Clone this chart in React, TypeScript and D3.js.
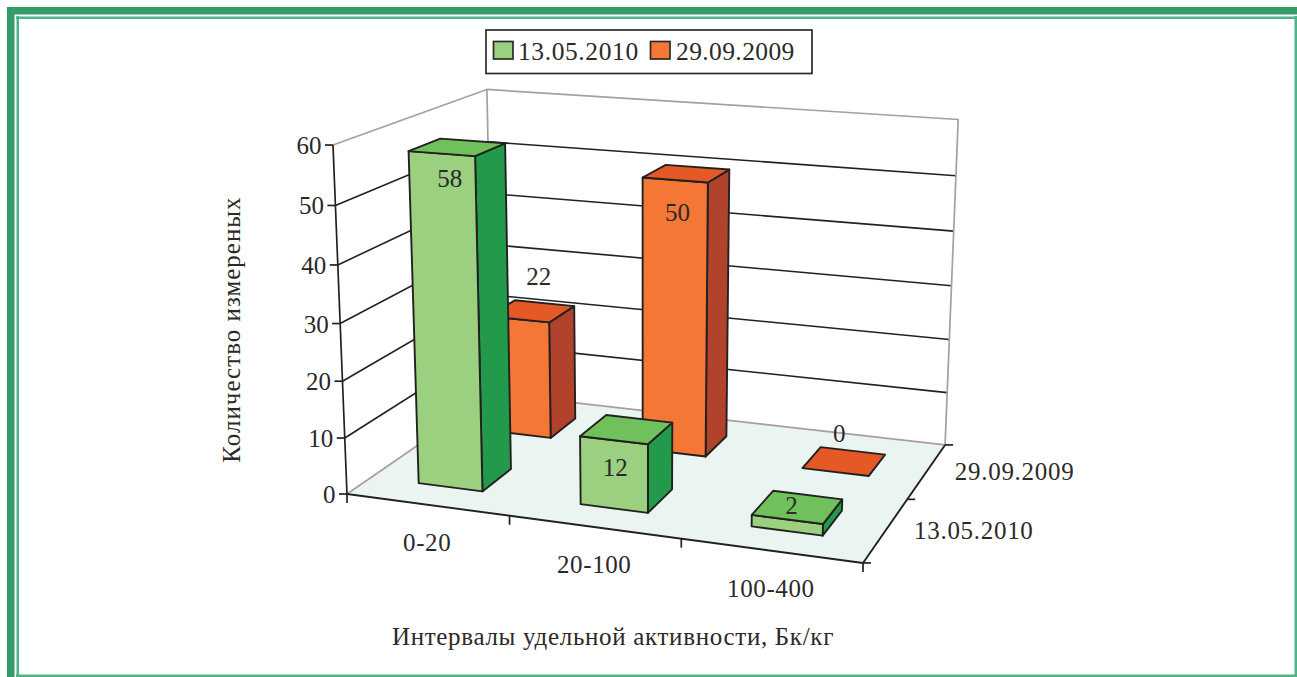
import React from "react";
import * as d3 from "d3";

const categories = ["0-20", "20-100", "100-400"];
const seriesNames = ["13.05.2010", "29.09.2009"];
const values2010 = [58, 12, 2];
const values2009 = [22, 50, 0];
const valueTicks = [0, 10, 20, 30, 40, 50, 60];

const xTitle = "Интервалы удельной активности, Бк/кг";
const yTitle = "Количество измереных";

const INK = "#2b2a29";
const TAUPE = "#a99e9b";
const FONT = "'Liberation Serif', serif";
const palette = [
  { front: "#9ad07f", top: "#70c15c", side: "#239a4b" },
  { front: "#f47735", top: "#e45926", side: "#b1432c" },
];
// hand-placed data label shifts, relative to the bar's top centre
const labelShift = [
  [[-7.5, 40], [-11.5, 46.5], [-6, 7]],
  [[7, -26], [-9, 47.5], [-5, -19]],
];

// 3D -> 2D projective camera (u along categories, v into depth, w up; all 0..1)
const cam = { a: 446.8, b: 223, c: 347, d: 23.8, e: -39.1, f: 494, g: -0.0802, h: 0.1561, i: -0.045, m: -29, n: -355.5 };
type P = [number, number];
const project = (u: number, v: number, w: number): P => {
  const q = cam.g * u + cam.h * v + cam.i * w + 1;
  return [
    (cam.a * u + cam.b * v + cam.m * w + cam.c) / q,
    (cam.d * u + cam.e * v + cam.n * w + cam.f) / q,
  ];
};

const uScale = d3.scaleBand<string>().domain(categories).range([0, 1]).paddingInner(0.6).paddingOuter(0.3);
const vScale = d3.scaleBand<string>().domain(seriesNames).range([0, 1]).paddingInner(0.6).paddingOuter(0.3);
const wScale = d3.scaleLinear().domain([0, 60]).range([0, 1]);
const seriesValues = [values2010, values2009];

const line = d3.line<P>();
const closed = (pts: P[]) => line(pts) + "Z";

function Bar({ cat, si, ci }: { cat: string; si: number; ci: number }) {
  const val = seriesValues[si][ci];
  const u0 = uScale(cat)!, u1 = u0 + uScale.bandwidth();
  const v0 = vScale(seriesNames[si])!, v1 = v0 + vScale.bandwidth();
  const w = wScale(val);
  const c = palette[si];
  const style = { stroke: "#232120", strokeWidth: 1.9, strokeLinejoin: "round" as const };
  return (
    <g {...style}>
      {val > 0 && (
        <>
          <path d={closed([project(u1, v0, 0), project(u1, v1, 0), project(u1, v1, w), project(u1, v0, w)])} fill={c.side} />
          <path d={closed([project(u0, v0, 0), project(u1, v0, 0), project(u1, v0, w), project(u0, v0, w)])} fill={c.front} />
        </>
      )}
      <path d={closed([project(u0, v0, w), project(u1, v0, w), project(u1, v1, w), project(u0, v1, w)])} fill={c.top} />
    </g>
  );
}

export default function App() {
  const text = { fontFamily: FONT, fill: INK, fontSize: 25 };
  const seg = (a: P, b: P, stroke: string, width = 1.6, key?: React.Key) => (
    <path key={key} d={line([a, b])!} stroke={stroke} strokeWidth={width} fill="none" />
  );
  const gridTicks = valueTicks.filter((t) => t > 0 && t < 60);
  return (
    <svg width={1297} height={677} style={{ position: "absolute", left: 0, top: 0, background: "#fff" }}>
      {/* page frame */}
      <g fill="#339c6a">
        <rect x={7} y={7} width={1290} height={7.5} />
        <rect x={7} y={7} width={7.5} height={670} />
      </g>
      <g fill="#4db489">
        <rect x={16} y={16.5} width={1281} height={2.5} />
        <rect x={16.5} y={16} width={2.5} height={661} />
        <rect x={1294.5} y={16} width={2.5} height={661} />
        <rect x={16} y={674.5} width={1281} height={2.5} />
      </g>

      {/* floor */}
      <path d={closed([project(0, 0, 0), project(1, 0, 0), project(1, 1, 0), project(0, 1, 0)])} fill="#eaf5f1" />
      {/* wall gridlines */}
      {gridTicks.map((t) => {
        const w = wScale(t);
        return (
          <path key={t} d={line([project(0, 0, w), project(0, 1, w), project(1, 1, w)])!} fill="none" stroke="#232120" strokeWidth={1.6} />
        );
      })}
      {/* wall outline */}
      <path
        d={line([project(0, 0, 1), project(0, 1, 1), project(1, 1, 1), project(1, 1, 0), project(0, 1, 0), project(0, 0, 0)])!}
        fill="none" stroke={TAUPE} strokeWidth={1.7} strokeLinejoin="round"
      />
      {seg(project(0, 1, 0), project(0, 1, 1), TAUPE, 1.7)}

      {/* axes */}
      {seg(project(0, 0, 0), project(0, 0, 1), "#232120", 1.7)}
      {seg(project(0, 0, 0), project(1, 0, 0), "#232120", 1.9)}
      {seg(project(1, 0, 0), project(1, 1, 0), "#232120", 1.9)}
      {valueTicks.map((t) => {
        const [x, y] = project(0, 0, wScale(t));
        return (
          <g key={t}>
            {seg([x - 8, y], [x, y], "#232120", 1.7)}
            <text x={x - 11.5} y={y + 9} textAnchor="end" {...text}>{t}</text>
          </g>
        );
      })}
      {d3.range(categories.length + 1).map((i) => {
        const [x, y] = project(i / categories.length, 0, 0);
        return <g key={i}>{seg([x, y], [x, y + 9], "#232120", 1.7)}</g>;
      })}
      {d3.range(seriesNames.length + 1).map((i) => {
        const [x, y] = project(1, i / seriesNames.length, 0);
        return <g key={i}>{seg([x, y], [x + 8, y], "#232120", 1.7)}</g>;
      })}
      {categories.map((c) => {
        const [x, y] = project(uScale(c)! + uScale.bandwidth() / 2, 0, 0);
        return <text key={c} x={x} y={y + 46} textAnchor="middle" {...text} letterSpacing={0.6}>{c}</text>;
      })}
      {seriesNames.map((s) => {
        const [x, y] = project(1, vScale(s)! + vScale.bandwidth() / 2, 0);
        return <text key={s} x={x + 28} y={y + 9} {...text} letterSpacing={0.7}>{s}</text>;
      })}

      {/* bars, back row first */}
      {[1, 0].map((si) =>
        categories.map((c, ci) => <Bar key={si + c} cat={c} si={si} ci={ci} />)
      )}
      {/* data labels */}
      {[1, 0].map((si) =>
        categories.map((c, ci) => {
          const val = seriesValues[si][ci];
          const [x, y] = project(
            uScale(c)! + uScale.bandwidth() / 2,
            vScale(seriesNames[si])! + vScale.bandwidth() / 2,
            wScale(val)
          );
          const [dx, dy] = labelShift[si][ci];
          return <text key={si + c + "l"} x={x + dx} y={y + dy} textAnchor="middle" {...text}>{val}</text>;
        })
      )}

      {/* titles */}
      <text x={613} y={645} textAnchor="middle" {...text} letterSpacing={0.68}>{xTitle}</text>
      <text transform="translate(240,329.5) rotate(-90)" textAnchor="middle" {...text} letterSpacing={1}>{yTitle}</text>

      {/* legend */}
      <rect x={486} y={30} width={326} height={43.5} fill="#fff" stroke={INK} strokeWidth={1.7} />
      <rect x={493.5} y={41.5} width={19.5} height={17.5} fill={palette[0].front} stroke={INK} strokeWidth={1.7} />
      <text x={518} y={59.5} {...text} fontSize={25.5} letterSpacing={0.6}>{seriesNames[0]}</text>
      <rect x={650.5} y={41.5} width={19.5} height={17.5} fill={palette[1].front} stroke={INK} strokeWidth={1.7} />
      <text x={676} y={59.5} {...text} fontSize={25.5} letterSpacing={0.4}>{seriesNames[1]}</text>
    </svg>
  );
}
